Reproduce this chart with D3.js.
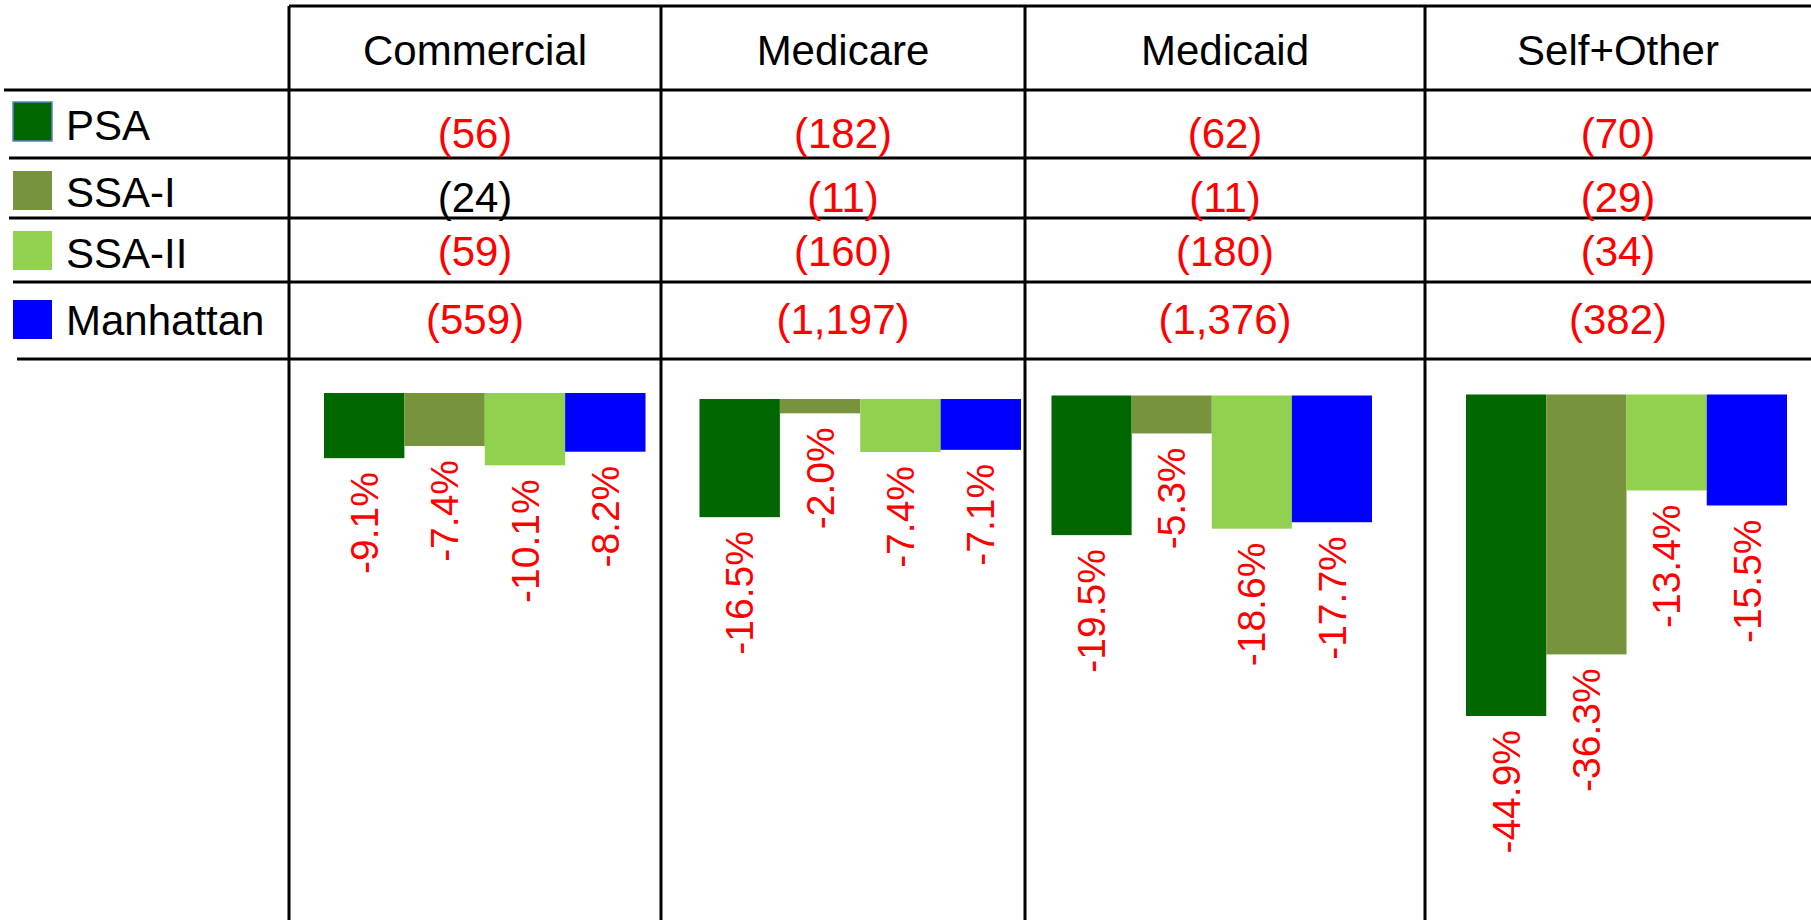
<!DOCTYPE html>
<html>
<head>
<meta charset="utf-8">
<script src="https://cdn.jsdelivr.net/npm/d3@7"></script>
<style>
  body { margin: 0; background: #fff; }
  svg { display: block; font-family: "Liberation Sans", Arial, sans-serif; }
</style>
</head>
<body>
<svg id="chart" width="1811" height="920"></svg>
<script>
// payer columns and region rows
const payers = ["Commercial", "Medicare", "Medicaid", "Self+Other"];
const regions = ["PSA", "SSA-I", "SSA-II", "Manhattan"];
const regionColors = ["#006600", "#77933c", "#92d050", "#0000ff"];

// volume change (table rows)
const psaVolume = [-56, -182, -62, -70];
const ssa1Volume = [-24, -11, -11, -29];
const ssa2Volume = [-59, -160, -180, -34];
const manhattanVolume = [-559, -1197, -1376, -382];

// percent change (bars)
const psaPct = [-9.1, -16.5, -19.5, -44.9];
const ssa1Pct = [-7.4, -2.0, -5.3, -36.3];
const ssa2Pct = [-10.1, -7.4, -18.6, -13.4];
const manhattanPct = [-8.2, -7.1, -17.7, -15.5];

const volumeRows = [psaVolume, ssa1Volume, ssa2Volume, manhattanVolume];
const pctRows = [psaPct, ssa1Pct, ssa2Pct, manhattanPct];

document.addEventListener('DOMContentLoaded', function() {
    const svg = d3.select("#chart");
    const W = 1811, H = 920;

    svg.append("rect").attr("width", W).attr("height", H).attr("fill", "#fff");

    // table grid
    const colEdges = [289, 661, 1025, 1425, W];
    const rowLines = [
        {y: 6, x0: 289}, {y: 90, x0: 4}, {y: 158, x0: 9},
        {y: 218, x0: 9}, {y: 282, x0: 13}, {y: 359, x0: 17}
    ];
    const grid = svg.append("g").attr("stroke", "#000").attr("stroke-width", 3);
    rowLines.forEach(r => {
        grid.append("line").attr("x1", r.x0).attr("x2", W).attr("y1", r.y).attr("y2", r.y);
    });
    colEdges.slice(0, 4).forEach(x => {
        grid.append("line").attr("x1", x).attr("x2", x).attr("y1", 6).attr("y2", H);
    });

    const colCenter = i => (colEdges[i] + colEdges[i + 1]) / 2;

    // header
    svg.selectAll(".hdr").data(payers).enter().append("text")
        .attr("class", "hdr")
        .attr("x", (d, i) => colCenter(i))
        .attr("y", 65)
        .attr("text-anchor", "middle")
        .style("font-size", "42px")
        .text(d => d);

    // legend column
    const swatchY = [102, 171, 231, 300];
    const legendBase = [140, 207, 268, 335];
    const leg = svg.selectAll(".leg").data(regions).enter().append("g").attr("class", "leg");
    leg.append("rect")
        .attr("x", 13).attr("y", (d, i) => swatchY[i])
        .attr("width", 39).attr("height", 39)
        .attr("fill", (d, i) => regionColors[i])
        .attr("stroke", (d, i) => i === 0 ? "#5b86c0" : "none")
        .attr("stroke-width", 1.5);
    leg.append("text")
        .attr("x", 66).attr("y", (d, i) => legendBase[i])
        .style("font-size", "42px")
        .text(d => d);

    // value cells
    const valueBase = [147.5, 211.5, 266, 333.5];
    const fmt = d3.format(",");
    volumeRows.forEach((row, r) => {
        svg.selectAll(".v" + r).data(row).enter().append("text")
            .attr("class", "v" + r)
            .attr("x", (d, i) => colCenter(i))
            .attr("y", valueBase[r])
            .attr("text-anchor", "middle")
            .style("font-size", "42px")
            .attr("fill", (d, i) => (r === 1 && i === 0) ? "#000" : "#ff0000")
            .text(d => "(" + fmt(Math.abs(d)) + ")");
    });

    // bar panels, one per payer
    const panels = [
        {x0: 324, x1: 645.5, base: 393},
        {x0: 699.5, x1: 1021, base: 399},
        {x0: 1051.5, x1: 1372, base: 395.5},
        {x0: 1466, x1: 1787, base: 394.5}
    ];
    const yScale = d3.scaleLinear().domain([0, -50]).range([0, 358]);

    payers.forEach((p, c) => {
        const pan = panels[c];
        const x = d3.scaleBand().domain(regions).range([pan.x0, pan.x1]).padding(0);
        const vals = regions.map((reg, r) => ({reg, r, v: pctRows[r][c]}));
        const g = svg.append("g");
        g.selectAll("rect").data(vals).enter().append("rect")
            .attr("x", d => x(d.reg))
            .attr("y", pan.base)
            .attr("width", x.bandwidth())
            .attr("height", d => yScale(d.v))
            .attr("fill", d => regionColors[d.r]);
        g.selectAll("text").data(vals).enter().append("text")
            .attr("transform", d => `translate(${x(d.reg) + x.bandwidth() / 2},${pan.base + yScale(d.v) + 14}) rotate(-90)`)
            .attr("dy", "0.35em")
            .attr("text-anchor", "end")
            .attr("fill", "#ff0000")
            .style("font-size", "39px")
            .text(d => d.v.toFixed(1) + "%");
    });
});
</script>
</body>
</html>
